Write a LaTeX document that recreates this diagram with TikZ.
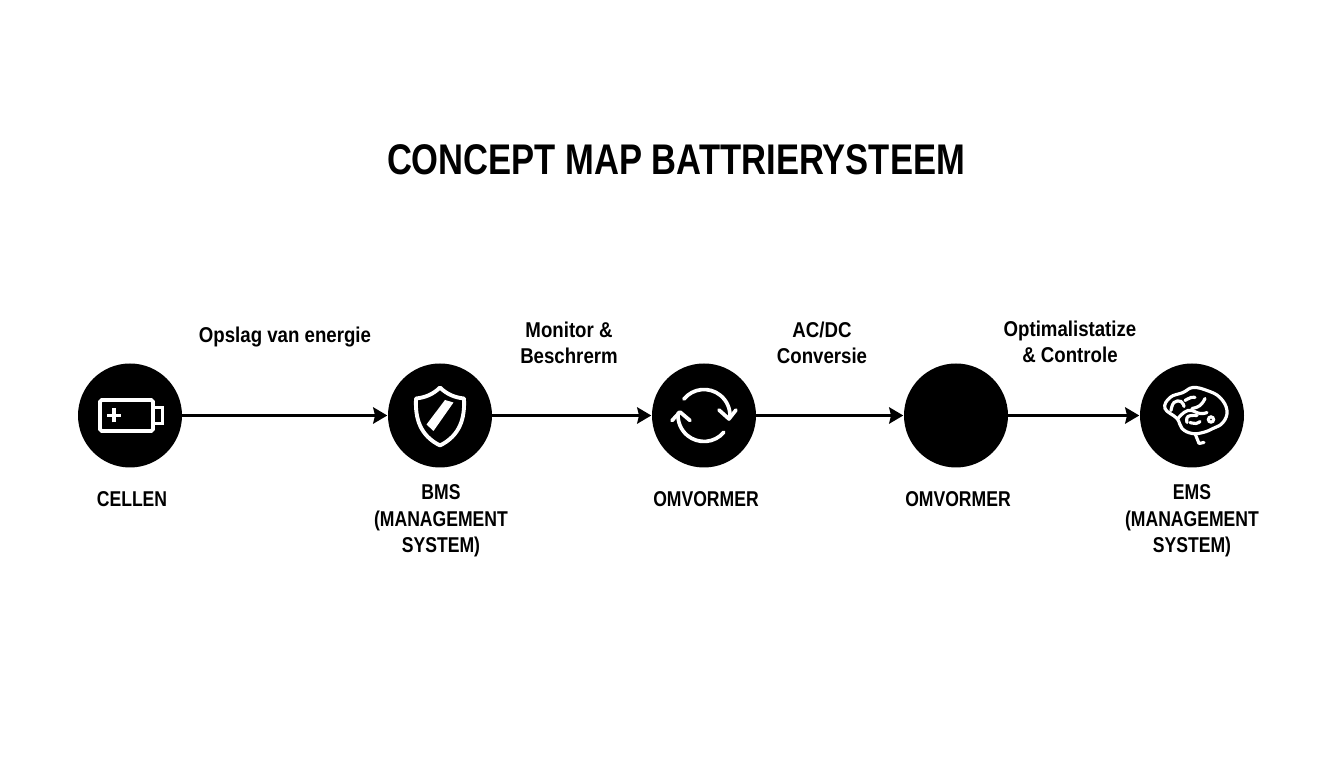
\documentclass[tikz,border=0pt]{standalone}
\usepackage{fontspec}
\setmainfont[FakeStretch=0.82]{Liberation Sans}
\newfontfamily\headfont[FakeStretch=0.806]{Liberation Sans}
\newfontfamily\edgefont[FakeStretch=0.87]{Liberation Sans}
\usetikzlibrary{arrows.meta}

\tikzset{
  station/.style={circle, fill=black, minimum size=1.04cm, inner sep=0pt},
  flow/.style={draw=black, line width=.85pt, -{Stealth[length=4pt,width=4.6pt,inset=.5pt]}, shorten <=-.5pt},
  icon/.style={draw=white, line width=1.05pt},
  brainline/.style={icon, line width=.9pt, line cap=round},
  title/.style={font=\fontsize{12.2}{14}\selectfont\headfont\bfseries},
  caption/.style={align=center, font=\fontsize{6.1}{7.55}\selectfont\bfseries},
  edgetext/.style={align=center, font=\fontsize{6.1}{7.55}\selectfont\edgefont\bfseries},
}

\begin{document}
\begin{tikzpicture}
  \useasboundingbox (0,0) rectangle (13.44,7.68);

  \node [title] (heading) at (6.76,6.08) {CONCEPT MAP BATTRIERYSTEEM};

  % stations
  \node [station] (cellen) at (1.30,3.525) {};
  \node [station] (bms) at (4.40,3.525) {};
  \node [station] (omv) at (7.04,3.525) {};
  \node [station] (omvb) at (9.56,3.525) {};
  \node [station] (ems) at (11.92,3.525) {};

  % connectors
  \draw [flow] (cellen) -- (bms);
  \draw [flow] (bms) -- (omv);
  \draw [flow] (omv) -- (omvb);
  \draw [flow] (omvb) -- (ems);

  % labels over the connectors
  \node [edgetext] (opslag) at (2.85,4.31) {Opslag van energie};
  \node [edgetext] (monitor) at (5.69,4.25) {Monitor \&\\Beschrerm};
  \node [edgetext] (acdc) at (8.22,4.25) {AC/DC\\Conversie};
  \node [edgetext] (optim) at (10.70,4.26) {Optimalistatize\\\& Controle};

  % labels under the stations
  \node [caption] (cellentxt) at (1.32,2.69) {CELLEN};
  \node [caption] (bmstxt) at (4.41,2.47) {BMS\\(MANAGEMENT\\SYSTEM)};
  \node [caption] (omvtxt) at (7.06,2.69) {OMVORMER};
  \node [caption] (omvbtxt) at (9.58,2.69) {OMVORMER};
  \node [caption] (emstxt) at (11.92,2.47) {EMS\\(MANAGEMENT\\SYSTEM)};

  % battery
  \begin{scope}[shift={(cellen)}, scale=.01]
    \draw [icon, rounded corners=.5pt] (-30,-15.5) rectangle (23,15.5);
    \draw [icon] (23,8) -- (32.5,8) -- (32.5,-8) -- (23,-8);
    \draw [icon] (-23,0) -- (-9,0);
    \draw [icon] (-16,-7) -- (-16,7);
  \end{scope}

  % shield
  \begin{scope}[shift={(bms)}, scale=.01]
    \draw [icon, line width=1.1pt, line join=round] (0,28) .. controls (7,21) and (15,18) .. (24,17)
      .. controls (25,-3) and (20,-20) .. (0,-30)
      .. controls (-20,-20) and (-25,-3) .. (-24,17)
      .. controls (-15,18) and (-7,21) .. (0,28) -- cycle;
    \fill [white] (-13.5,-9) -- (5,15.5) -- (13.5,13) -- (-6.5,-15.5) -- cycle;
  \end{scope}

  % cycle arrows
  \begin{scope}[shift={(omv)}, scale=.01]
    \draw [icon, line cap=round] (141:26) arc (141:-2:26);
    \draw [icon, line cap=round, line join=round] (15,5.5) -- (25,-3.5) -- (32,5.5);
    \draw [icon, line cap=round] (-40:26) arc (-40:-186:26);
    \draw [icon, line cap=round, line join=round] (-32,-5) -- (-24,3.5) -- (-14,-5);
  \end{scope}

  % brain
  \begin{scope}[shift={(ems)}, scale=.01]
    \draw [brainline] plot [smooth cycle, tension=.7] coordinates {(-15,-3) (-27,7) (-22,18) (-9,23) (1,28) (15,25) (28,18) (35,5) (31,-7) (21,-13) (11,-17) (0,-18) (-10,-13)};
    \draw [brainline] plot [smooth, tension=.8] coordinates {(-21,5) (-18,13) (-11,14) (-8,9)};
    \draw [brainline] plot [smooth, tension=.8] coordinates {(-7,15) (-1,18) (3,18)};
    \draw [brainline] plot [smooth, tension=.8] coordinates {(0,7) (8,10) (13,17)};
    \draw [brainline] plot [smooth, tension=.8] coordinates {(-14,-3) (-4,5) (8,2) (15,3)};
    \draw [brainline] plot [smooth, tension=.8] coordinates {(-5,-7) (-4,-1) (5,0)};
    \draw [brainline] plot [smooth, tension=.8] coordinates {(-2,-7) (4,-8) (8,-6)};
    \draw [brainline] (19,-4) circle (2.6);
    \draw [brainline, line join=round] (3,-18) -- (7,-28) -- (12,-27);
  \end{scope}
\end{tikzpicture}
\end{document}
